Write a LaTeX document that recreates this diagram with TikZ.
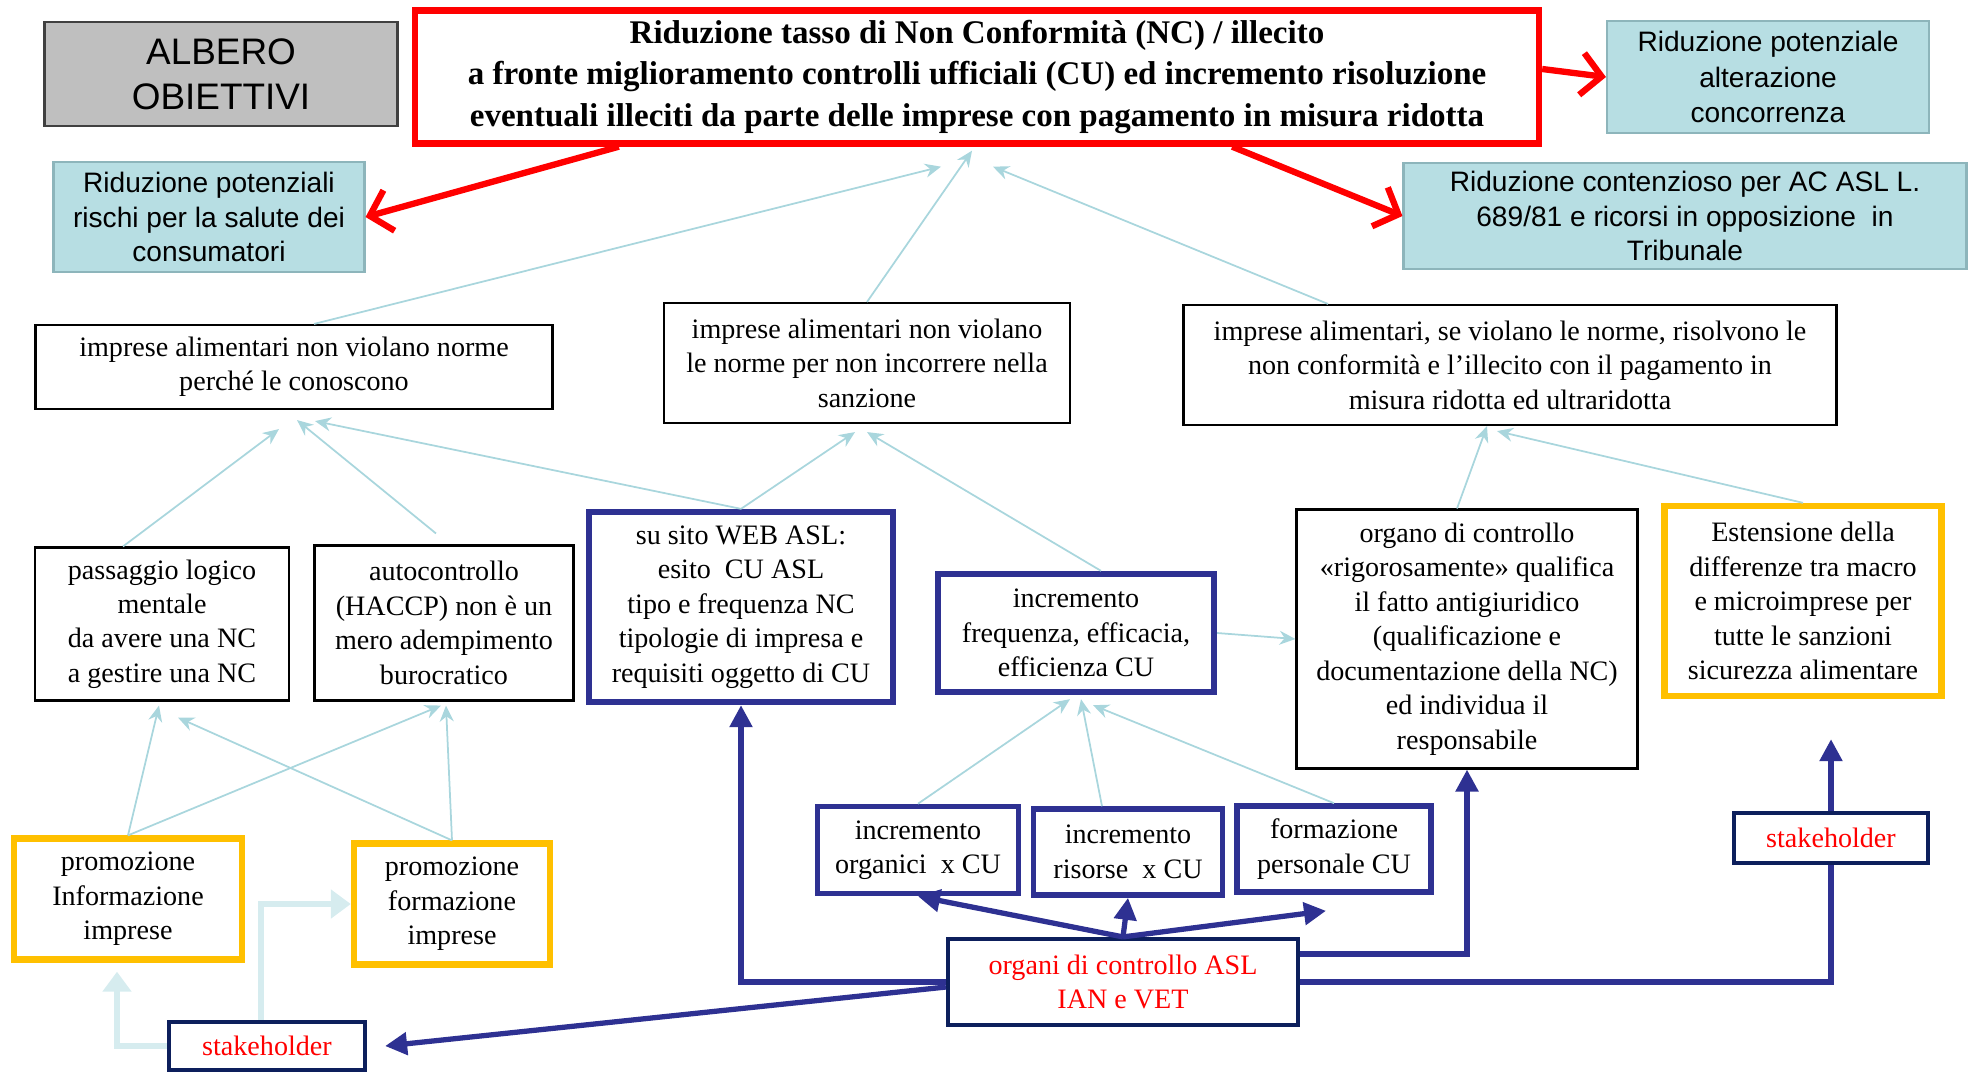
\documentclass[tikz,border=0pt]{standalone}
\usepackage{fontspec}
\setmainfont{Liberation Serif}
\newfontfamily\arialfont{Liberation Sans}
\usepackage{xcolor}
\usepackage{tikz}
\usetikzlibrary{shapes,arrows,positioning,arrows.meta}

\definecolor{tealfill}{HTML}{B7DEE3}
\definecolor{tealedge}{HTML}{8DB5BB}
\definecolor{greyfill}{HTML}{BFBFBF}
\definecolor{cublue}{HTML}{2E3192}
\definecolor{darknavy}{HTML}{0D1F5C}
\definecolor{gold}{HTML}{FFC000}
\definecolor{paleline}{HTML}{A9D6DD}
\definecolor{palefeed}{HTML}{D6ECEF}

\tikzstyle{txt} = [font=\fontsize{8}{9.8}\selectfont, align=center, inner sep=1pt]
\tikzstyle{plainbox} = [rectangle, draw, line width=0.6pt, txt]
\tikzstyle{cubox} = [rectangle, draw=cublue, line width=1.8pt, txt]
\tikzstyle{goldbox} = [rectangle, draw=gold, line width=1.8pt, txt]
\tikzstyle{redbox} = [rectangle, draw=darknavy, line width=1.2pt, txt, text=red]
\tikzstyle{tealbox} = [rectangle, draw=tealedge, fill=tealfill, line width=0.6pt, align=center, inner sep=1pt, font=\arialfont\fontsize{8}{9.9}\selectfont]
\tikzstyle{pale} = [-{Stealth[length=1.6mm,width=1.4mm]}, draw=paleline, line width=0.5pt]
\tikzstyle{feed} = [-{Triangle[length=2mm,width=2.8mm]}, draw=palefeed, line width=1.8pt]
\tikzstyle{cuarrow} = [-{Triangle[length=2.2mm,width=2.2mm]}, draw=cublue, line width=1.5pt]
\tikzstyle{redarrow} = [-{Straight Barb[length=2mm,width=4.2mm]}, draw=red, line width=1.8pt]

\begin{document}
\begin{tikzpicture}
    \useasboundingbox (0,0) rectangle (19.72,-10.73);

    % Header
    \node[rectangle, draw=black!75, fill=greyfill, line width=0.8pt, align=center, font=\arialfont\fontsize{10.5}{12.8}\selectfont, minimum width=3.53cm, minimum height=1.04cm] (albero) at (2.21,-0.74) {ALBERO\\OBIETTIVI};
    \node[rectangle, draw=red, line width=1.8pt, align=center, inner sep=1pt, font=\bfseries\fontsize{9.4}{11.8}\selectfont, minimum width=11.24cm, minimum height=1.33cm] (title) at (9.77,-0.77) {Riduzione tasso di Non Conformità (NC) / illecito\\a fronte miglioramento controlli ufficiali (CU) ed incremento risoluzione\\eventuali illeciti da parte delle imprese con pagamento in misura ridotta};

    % Side goals
    \node[tealbox, font=\arialfont\fontsize{8}{10}\selectfont, minimum width=3.22cm, minimum height=1.12cm] (b3) at (17.68,-0.77) {Riduzione potenziale\\alterazione\\concorrenza};
    \node[tealbox, minimum width=3.11cm, minimum height=1.1cm] (b4) at (2.09,-2.17) {Riduzione potenziali\\rischi per la salute dei\\consumatori};
    \node[tealbox, minimum width=5.63cm, minimum height=1.06cm] (b5) at (16.85,-2.16) {Riduzione contenzioso per AC ASL L.\\689/81 e ricorsi in opposizione\ \ in\\Tribunale};

    % Goals of the firms
    \node[plainbox, minimum width=5.17cm, minimum height=0.84cm] (b6) at (2.94,-3.67) {imprese alimentari non violano norme\\perché le conoscono};
    \node[plainbox, minimum width=4.06cm, minimum height=1.2cm] (b7) at (8.67,-3.63) {imprese alimentari non violano\\le norme per non incorrere nella\\sanzione};
    \node[plainbox, minimum width=6.53cm, minimum height=1.2cm] (b8) at (15.1,-3.65) {imprese alimentari, se violano le norme, risolvono le\\non conformità e l’illecito con il pagamento in\\misura ridotta ed ultraridotta};

    % Means
    \node[plainbox, minimum width=2.54cm, minimum height=1.53cm] (b9) at (1.62,-6.24) {passaggio logico\\mentale\\da avere una NC\\a gestire una NC};
    \node[plainbox, minimum width=2.59cm, minimum height=1.55cm] (b10) at (4.44,-6.23) {autocontrollo\\(HACCP) non è un\\mero adempimento\\burocratico};
    \node[cubox, minimum width=3.04cm, minimum height=1.9cm] (b11) at (7.41,-6.07) {su sito WEB ASL:\\esito\ \ CU ASL\\tipo e frequenza NC\\tipologie di impresa e\\requisiti oggetto di CU};
    \node[cubox, minimum width=2.76cm, minimum height=1.18cm] (b12) at (10.76,-6.33) {incremento\\frequenza, efficacia,\\efficienza CU};
    \node[plainbox, minimum width=3.41cm, minimum height=2.59cm] (b13) at (14.67,-6.39) {organo di controllo\\«rigorosamente» qualifica\\il fatto antigiuridico\\(qualificazione e\\documentazione della NC)\\ed individua il\\responsabile};
    \node[goldbox, minimum width=2.77cm, minimum height=1.9cm] (b14) at (18.03,-6.01) {Estensione della\\differenze tra macro\\e microimprese per\\tutte le sanzioni\\sicurezza alimentare};

    % Resources
    \node[cubox, line width=1.6pt, minimum width=2.01cm, minimum height=0.87cm] (b15) at (9.18,-8.5) {incremento\\organici\ \ x CU};
    \node[cubox, line width=1.6pt, minimum width=1.89cm, minimum height=0.86cm] (b16) at (11.28,-8.52) {incremento\\risorse\ \ x CU};
    \node[cubox, line width=1.6pt, minimum width=1.94cm, minimum height=0.86cm] (b17) at (13.34,-8.49) {formazione\\personale CU};

    % Promotion
    \node[goldbox, minimum width=2.28cm, minimum height=1.21cm] (b19) at (1.28,-8.99) {promozione\\Informazione\\imprese};
    \node[goldbox, minimum width=1.96cm, minimum height=1.21cm] (b20) at (4.52,-9.04) {promozione\\formazione\\imprese};

    % Actors
    \node[redbox, minimum width=3.5cm, minimum height=0.86cm] (org) at (11.23,-9.82) {organi di controllo ASL\\IAN e VET};
    \node[redbox, minimum width=1.94cm, minimum height=0.5cm] (sr) at (18.31,-8.38) {stakeholder};
    \node[redbox, minimum width=1.96cm, minimum height=0.48cm] (sl) at (2.67,-10.46) {stakeholder};

    % Goals -> title
    \draw[pale] ([xshift=2mm]b6.north) -- ([xshift=-3.6mm,yshift=-2mm]title.south);
    \draw[pale] (b7.north) -- ([xshift=-0.5mm,yshift=-0.4mm]title.south);
    \draw[pale] ([xshift=-18.2mm]b8.north) -- ([xshift=1.6mm,yshift=-2mm]title.south);

    % Title -> side goals
    \draw[redarrow] ([xshift=20.7mm]title.south west) -- (b4.east);
    \draw[redarrow] ([xshift=-31mm]title.south east) -- (b5.west);
    \draw[redarrow] ([yshift=0.8mm]title.east) -- (b3.west);

    % Means -> goals
    \draw[pale] ([xshift=-3.9mm]b9.north) -- ([xshift=-1.5mm,yshift=-1.9mm]b6.south);
    \draw[pale] ([xshift=-0.8mm,yshift=1.1mm]b10.north) -- ([xshift=0.3mm,yshift=-1mm]b6.south);
    \draw[pale] (b11.north) -- ([xshift=2.1mm,yshift=-1.1mm]b6.south);
    \draw[pale] (b11.north) -- ([xshift=-1.2mm,yshift=-0.8mm]b7.south);
    \draw[pale] ([xshift=2.5mm]b12.north) -- ([yshift=-0.8mm]b7.south);
    \draw[pale] ([xshift=-1mm]b13.north) -- ([xshift=-2.3mm]b8.south);
    \draw[pale] (b14.north) -- ([xshift=-1.3mm,yshift=-0.5mm]b8.south);
    \draw[pale] (b12.east) -- (b13.west);

    % Resources -> CU
    \draw[pale] (b15.north) -- ([xshift=-0.6mm,yshift=-0.4mm]b12.south);
    \draw[pale] ([xshift=-2.6mm]b16.north) -- ([xshift=0.5mm,yshift=-0.4mm]b12.south);
    \draw[pale] (b17.north) -- ([xshift=1.7mm,yshift=-1mm]b12.south);

    % Promotion -> means
    \draw[pale] (b19.north) -- ([xshift=-0.3mm,yshift=-0.4mm]b9.south);
    \draw[pale] (b19.north) -- ([xshift=-0.3mm,yshift=-0.4mm]b10.south);
    \draw[pale] (b20.north) -- ([xshift=1.6mm,yshift=-1.6mm]b9.south);
    \draw[pale] (b20.north) -- ([xshift=0.2mm,yshift=-0.4mm]b10.south);
    \draw[feed] (sl.west) -| ([xshift=-1.1mm,yshift=-0.9mm]b19.south);
    \draw[feed] ([xshift=-0.6mm]sl.north) |- (b20.west);

    % Control bodies
    \draw[cuarrow] (org.north) -- (b15.south);
    \draw[cuarrow] (org.north) -- (b16.south);
    \draw[cuarrow] (org.north) -- ([xshift=-0.8mm,yshift=-1.6mm]b17.south);
    \draw[cuarrow] (org.west) -| (b11.south);
    \draw[cuarrow] ([yshift=-0.5mm]org.west) -- ([xshift=1.8mm]sl.east);
    \draw[cuarrow] ([yshift=2.8mm]org.east) -| (b13.south);
    \draw[draw=cublue, line width=1.5pt] (org.east) -| (sr.south);
    \draw[cuarrow, shorten >=4mm] (sr.north) -- (sr.north |- b14.south);
\end{tikzpicture}
\end{document}
